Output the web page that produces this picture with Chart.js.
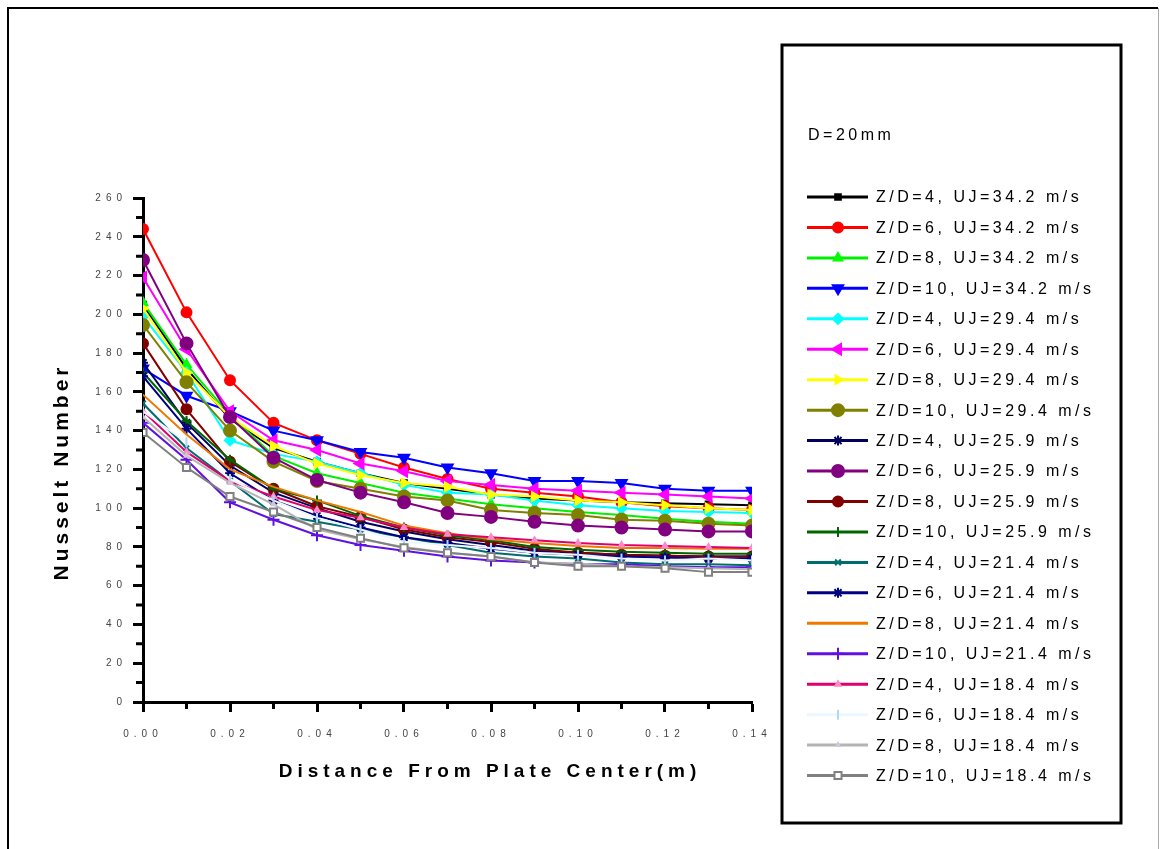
<!DOCTYPE html>
<html>
<head>
<meta charset="utf-8">
<title>Nusselt Number vs Distance From Plate Center</title>
<script src="https://cdn.jsdelivr.net/npm/chart.js@4.4.0/dist/chart.umd.min.js"></script>
<style>
  html, body { margin: 0; padding: 0; background: #fff; }
  #wrap { position: relative; width: 1160px; height: 849px; }
</style>
</head>
<body>
<div id="wrap"><canvas id="nuChart" width="1160" height="849"></canvas></div>
<script>
// radial position on the plate (m)
const distance = [0.00, 0.01, 0.02, 0.03, 0.04, 0.05, 0.06, 0.07, 0.08, 0.09, 0.10, 0.11, 0.12, 0.13, 0.14];

// local Nusselt number, one array per Z/D and jet velocity
const nuZD4_U342  = [205, 172, 146, 131, 124, 118, 113, 110, 107, 105, 104, 103, 102.5, 102, 101.5];
const nuZD6_U342  = [244, 201, 166, 144, 135, 128, 121, 115, 110, 108, 106, 103, 101, 100, 99];
const nuZD8_U342  = [206, 174, 148, 127, 118, 113, 108, 105, 102, 100, 98, 96.5, 94.5, 93, 92];
const nuZD10_U342 = [172, 158, 150, 140, 135, 129, 126, 121, 118, 114, 114, 113, 110, 109, 109];
const nuZD4_U294  = [199, 170, 135, 128, 124, 118, 112, 108, 107, 104, 101.5, 100, 98.5, 98, 97.5];
const nuZD6_U294  = [219, 182, 150, 135, 130, 123, 119, 114, 112, 110, 109, 108, 107, 106, 105];
const nuZD8_U294  = [203, 170, 147, 132, 123, 117, 113, 111, 107, 106, 104, 103, 101.5, 100, 99];
const nuZD10_U294 = [194.5, 165, 140, 124, 114, 110, 106, 104, 99, 97.5, 96.5, 94, 93.5, 92, 91];
const nuZD4_U259  = [175, 144, 122, 108, 100, 93, 88, 84, 81, 78, 77, 76, 75.5, 75, 75];
const nuZD6_U259  = [228, 185, 147, 126, 114.5, 108, 103, 97.5, 95.5, 93, 91, 90, 89, 88, 88];
const nuZD8_U259  = [185, 151, 124, 110, 101, 95.5, 89, 85, 82.5, 79, 77, 76, 75.5, 75, 75];
const nuZD10_U259 = [170, 145, 125, 110, 104, 96, 90, 86, 83.5, 80, 78.5, 77.5, 77, 76.5, 76.5];
const nuZD4_U214  = [154, 131, 114, 97, 93, 89, 85, 81, 77, 75, 74, 72, 71, 71, 70.5];
const nuZD6_U214  = [168, 141, 118, 104, 96, 90, 85, 82, 79, 77, 76, 75, 74.5, 74, 74];
const nuZD8_U214  = [158.5, 138, 120, 111, 104, 98, 91, 87, 84, 82, 80.5, 79.5, 79.5, 79, 79];
const nuZD10_U214 = [144, 125, 103, 94, 86, 81, 78, 75, 73, 72, 71, 71, 70, 69.5, 69.5];
const nuZD4_U184  = [150, 129, 114, 106, 99, 95, 90, 86.5, 85, 83.5, 82, 81, 80.5, 80, 79.5];
const nuZD6_U184  = [150, 134, 115, 104, 95, 89, 82.5, 81, 79.5, 77, 76, 74, 73, 74, 73];
const nuZD8_U184  = [147, 127, 113, 102, 89, 84, 80, 77, 75, 72, 71.5, 70, 69.5, 69, 68.5];
const nuZD10_U184 = [139, 121, 106, 98, 90, 84.5, 79.5, 77, 75, 72, 70, 70, 69, 67, 67];

const seriesLabels = [
  'Z/D=4, UJ=34.2 m/s', 'Z/D=6, UJ=34.2 m/s', 'Z/D=8, UJ=34.2 m/s', 'Z/D=10, UJ=34.2 m/s',
  'Z/D=4, UJ=29.4 m/s', 'Z/D=6, UJ=29.4 m/s', 'Z/D=8, UJ=29.4 m/s', 'Z/D=10, UJ=29.4 m/s',
  'Z/D=4, UJ=25.9 m/s', 'Z/D=6, UJ=25.9 m/s', 'Z/D=8, UJ=25.9 m/s', 'Z/D=10, UJ=25.9 m/s',
  'Z/D=4, UJ=21.4 m/s', 'Z/D=6, UJ=21.4 m/s', 'Z/D=8, UJ=21.4 m/s', 'Z/D=10, UJ=21.4 m/s',
  'Z/D=4, UJ=18.4 m/s', 'Z/D=6, UJ=18.4 m/s', 'Z/D=8, UJ=18.4 m/s', 'Z/D=10, UJ=18.4 m/s'
];
const seriesValues = [
  nuZD4_U342, nuZD6_U342, nuZD8_U342, nuZD10_U342,
  nuZD4_U294, nuZD6_U294, nuZD8_U294, nuZD10_U294,
  nuZD4_U259, nuZD6_U259, nuZD8_U259, nuZD10_U259,
  nuZD4_U214, nuZD6_U214, nuZD8_U214, nuZD10_U214,
  nuZD4_U184, nuZD6_U184, nuZD8_U184, nuZD10_U184
];

const xTickValues = [0.00, 0.02, 0.04, 0.06, 0.08, 0.10, 0.12, 0.14];
const yTickValues = [0, 20, 40, 60, 80, 100, 120, 140, 160, 180, 200, 220, 240, 260];
const legendNote = 'D=20mm';

// line colour, marker colour, marker shape, marker size, rotation
const looks = [
  { line: '#000000', mark: '#000000', style: 'rect',     r: 4, rot: 0 },
  { line: '#ff0000', mark: '#ff0000', style: 'circle',   r: 5, rot: 0 },
  { line: '#00ee00', mark: '#00ff00', style: 'triangle', r: 5, rot: 0 },
  { line: '#0000ff', mark: '#0000ff', style: 'triangle', r: 6, rot: 180 },
  { line: '#00ffff', mark: '#00ffff', style: 'rectRot',  r: 5, rot: 0 },
  { line: '#ff00ff', mark: '#ff00ff', style: 'triangle', r: 6, rot: -90 },
  { line: '#ffff00', mark: '#ffff00', style: 'triangle', r: 5, rot: 90 },
  { line: '#808000', mark: '#808000', style: 'circle',   r: 6, rot: 0 },
  { line: '#000060', mark: '#000060', style: 'star',     r: 5, rot: 0 },
  { line: '#800080', mark: '#800080', style: 'circle',   r: 6, rot: 0 },
  { line: '#800000', mark: '#800000', style: 'circle',   r: 5, rot: 0 },
  { line: '#006400', mark: '#006400', style: 'cross',    r: 5, rot: 0 },
  { line: '#006c6c', mark: '#007070', style: 'crossRot', r: 4, rot: 0 },
  { line: '#000080', mark: '#000080', style: 'star',     r: 5, rot: 0 },
  { line: '#f07800', mark: '#f07800', style: false,      r: 0, rot: 0 },
  { line: '#6010e0', mark: '#6010e0', style: 'cross',    r: 6, rot: 0 },
  { line: '#e0006a', mark: '#ff88c8', style: 'triangle', r: 3, rot: 0 },
  { line: '#eef6ff', mark: '#b0d8f6', style: 'line',     r: 5, rot: 90 },
  { line: '#b4b4b4', mark: '#d0c8d8', style: 'triangle', r: 2, rot: 0 },
  { line: '#808080', mark: '#808080', style: 'rect',     r: 5, rot: 0, hollow: true }
];

const datasets = seriesValues.map((vals, i) => {
  const lk = looks[i];
  return {
    label: seriesLabels[i],
    data: vals.map((v, k) => ({ x: distance[k], y: v })),
    borderColor: lk.line,
    borderWidth: 2,
    pointStyle: lk.style,
    pointRadius: lk.r,
    pointRotation: lk.rot,
    pointBackgroundColor: lk.hollow ? '#ffffff' : lk.mark,
    pointBorderColor: lk.mark,
    pointBorderWidth: 2,
    tension: 0,
    clip: 0,
    order: seriesValues.length - i   // later series drawn on top
  };
});

const frame = { left: 143, top: 198, right: 752, bottom: 702 };

const decor = {
  id: 'decor',
  beforeDraw(chart) {
    const ctx = chart.ctx;
    ctx.save();
    ctx.fillStyle = '#fff';
    ctx.fillRect(0, 0, chart.width, chart.height);
    // page border
    ctx.strokeStyle = '#000';
    ctx.lineWidth = 2;
    ctx.beginPath();
    ctx.moveTo(8, 849); ctx.lineTo(8, 8); ctx.lineTo(1158, 8);
    ctx.stroke();
    ctx.strokeStyle = '#aaa';
    ctx.lineWidth = 1;
    ctx.beginPath();
    ctx.moveTo(1158.5, 8); ctx.lineTo(1158.5, 849);
    ctx.stroke();
    ctx.restore();
    ctx.letterSpacing = '5px';   // spaced-out tick labels
  },
  afterDraw(chart) {
    const ctx = chart.ctx;
    const xs = chart.scales.x, ys = chart.scales.y;
    ctx.save();

    // minor ticks
    ctx.strokeStyle = '#000';
    ctx.lineWidth = 3;
    ctx.beginPath();
    for (let v = 10; v < 260; v += 20) {
      const py = ys.getPixelForValue(v);
      ctx.moveTo(frame.left - 7, py); ctx.lineTo(frame.left, py);
    }
    distance.forEach((d, k) => {
      if (k % 2 === 1) {
        const px = xs.getPixelForValue(d);
        ctx.moveTo(px, frame.bottom); ctx.lineTo(px, frame.bottom + 7);
      }
    });
    ctx.stroke();

    // axis titles
    ctx.fillStyle = '#000';
    ctx.textAlign = 'center';
    ctx.textBaseline = 'middle';
    ctx.letterSpacing = '5px';
    ctx.font = 'bold 19px "Liberation Sans", Arial, sans-serif';
    ctx.fillText('Distance From Plate Center(m)', 490, 772);
    ctx.save();
    ctx.translate(62, 472);
    ctx.rotate(-Math.PI / 2);
    ctx.letterSpacing = '4px';
    ctx.font = 'bold 21px "Liberation Sans", Arial, sans-serif';
    ctx.fillText('Nusselt Number', 0, 0);
    ctx.restore();

    // legend box
    const box = { x: 782, y: 45, w: 339, h: 778 };
    ctx.strokeStyle = '#000';
    ctx.lineWidth = 3;
    ctx.strokeRect(box.x, box.y, box.w, box.h);

    ctx.textAlign = 'left';
    ctx.letterSpacing = '3.5px';
    ctx.font = '16px "Liberation Sans", Arial, sans-serif';
    ctx.fillText(legendNote, 808, 136);

    chart.data.datasets.forEach((ds, i) => {
      const ly = 197 + i * 30.45;
      ctx.strokeStyle = ds.borderColor;
      ctx.lineWidth = 3;
      ctx.beginPath();
      ctx.moveTo(807, ly); ctx.lineTo(868, ly);
      ctx.stroke();
      if (ds.pointStyle && ds.pointRadius > 0) {
        ctx.fillStyle = ds.pointBackgroundColor;
        ctx.strokeStyle = ds.pointBorderColor;
        ctx.lineWidth = ds.pointBorderWidth;
        Chart.helpers.drawPoint(ctx, {
          pointStyle: ds.pointStyle,
          rotation: ds.pointRotation,
          radius: ds.pointRadius,
          borderWidth: ds.pointBorderWidth
        }, 838, ly);
      }
      ctx.fillStyle = '#000';
      ctx.fillText(ds.label, 876, ly + 1);
    });
    ctx.restore();
  }
};

new Chart(document.getElementById('nuChart'), {
  type: 'line',
  data: { datasets: datasets },
  options: {
    responsive: false,
    devicePixelRatio: 1,
    animation: false,
    layout: { padding: { left: 0, top: frame.top, right: 1160 - frame.right, bottom: 0 } },
    plugins: { legend: { display: false }, tooltip: { enabled: false } },
    scales: {
      x: {
        type: 'linear',
        min: 0, max: 0.14,
        afterFit: s => { s.height = 849 - frame.bottom; },
        afterBuildTicks: s => { s.ticks = xTickValues.map(v => ({ value: v })); },
        border: { display: true, color: '#000', width: 3 },
        grid: { drawOnChartArea: false, drawTicks: true, tickLength: 10, tickWidth: 3, tickColor: '#000', color: '#000' },
        ticks: {
          padding: 16,
          color: '#444',
          font: { family: '"Liberation Sans", Arial, sans-serif', size: 10 },
          callback: v => v.toFixed(2),
          maxRotation: 0
        },
        title: { display: false }
      },
      y: {
        min: 0, max: 260,
        afterFit: s => { s.width = frame.left; },
        afterBuildTicks: s => { s.ticks = yTickValues.map(v => ({ value: v })); },
        border: { display: true, color: '#000', width: 3 },
        grid: { drawOnChartArea: false, drawTicks: true, tickLength: 10, tickWidth: 3, tickColor: '#000', color: '#000' },
        ticks: {
          padding: 6,
          color: '#444',
          font: { family: '"Liberation Sans", Arial, sans-serif', size: 10 },
          callback: v => String(v)
        },
        title: { display: false }
      }
    }
  },
  plugins: [decor]
});
</script>
</body>
</html>
